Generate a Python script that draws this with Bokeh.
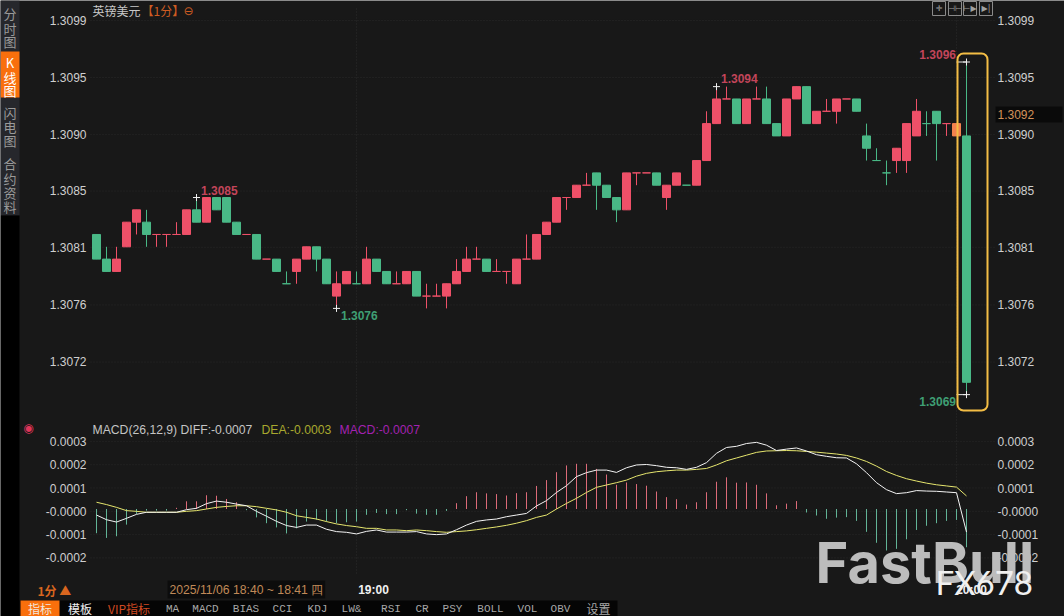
from bokeh.plotting import figure
from bokeh.embed import file_html
from bokeh.resources import INLINE
from bokeh.models import LinearAxis, FixedTicker, Label, BoxAnnotation, Range1d, ColumnDataSource

# ---------- data ----------
# candles: pips above 1.3000
opens  = [82,80,79,81,83,83,82,82,82,82,84,83,85,85,83,82,82,80,80,78,79,80,81,80,77,78,78,78,80,79,78,78,79,77,77,77,78,79,80,80,79,79,78,80,80,82,83,85,85,86,87,86,85,84,87,87,87,85,86,86,86,88,91,93,93,91,93,93,91,90,93,94,91,92,92,93,93,90,88,87,88,88,90,91,92,91,90,90]
closes = [80,79,80,83,84,82,82,82,82,84,83,85,84,83,82,82,80,80,79,78,80,81,80,78,78,79,78,80,79,78,78,79,77,77,77,78,79,80,80,79,79,79,80,80,82,83,85,85,86,86,86,85,84,87,87,87,86,86,87,86,88,91,93,93,91,93,93,91,90,93,94,91,92,92,93,93,92,89,88,87,89,91,92,91,91,91,91,70]
highs  = [82,81,81,83,84,84,82,82,83,84,85,85,85,85,83,82,82,80,80,79,80,81,81,80,79,79,79,81,80,79,79,79,79,78,78,78,80,81,81,80,80,79,80,82,82,83,85,85,86,87,87,86,85,87,87,87,87,86,87,86,88,92,94,94,93,93,94,94,91,93,94,94,92,93,93,93,93,91,89,88,89,91,93,92,92,91,91,96]
lows   = [80,79,79,81,82,81,81,81,82,82,83,83,84,83,82,82,80,80,79,78,78,80,79,78,76,78,78,78,79,78,78,78,77,76,77,76,78,79,80,79,79,78,78,80,80,82,83,84,85,86,84,85,83,84,86,87,86,84,86,86,86,88,91,93,91,91,93,91,90,90,93,91,91,92,91,93,92,88,88,86,87,87,90,90,88,90,90,69]
green_dojis = [19,26,59,78,79,83]
highlight_candle = 86

# MACD, in units of 0.0001
diff = [-.26,-.46,-.56,-.40,-.23,-.14,-.14,-.14,-.14,-.03,.03,.23,.34,.29,.21,.14,-.10,-.31,-.53,-.71,-.79,-.69,-.69,-.87,-.97,-1.0,-1.07,-.96,-.90,-.99,-.99,-.99,-.97,-1.07,-1.10,-1.07,-.89,-.69,-.53,-.47,-.43,-.33,-.26,-.19,.13,.36,.71,1.0,1.39,1.56,1.67,1.67,1.57,1.77,1.89,1.91,1.86,1.79,1.77,1.70,1.79,1.99,2.39,2.64,2.69,2.81,2.86,2.74,2.51,2.57,2.62,2.49,2.33,2.26,2.20,2.19,1.94,1.56,1.13,.83,.66,.70,.79,.77,.76,.73,.70,-.99]
dea  = [.29,.19,.07,-.07,-.10,-.14,-.14,-.14,-.14,-.10,-.07,0,.07,.11,.14,.14,.10,.03,-.04,-.14,-.29,-.36,-.43,-.54,-.64,-.71,-.76,-.83,-.83,-.90,-.90,-.93,-.90,-.93,-.97,-1.0,-.97,-.94,-.89,-.83,-.77,-.70,-.61,-.50,-.36,-.26,0,.24,.46,.71,.93,1.03,1.13,1.24,1.41,1.53,1.60,1.64,1.67,1.67,1.70,1.74,1.89,2.07,2.19,2.31,2.43,2.49,2.50,2.51,2.50,2.47,2.44,2.40,2.36,2.30,2.19,2.04,1.84,1.61,1.44,1.30,1.20,1.11,1.04,.99,.94,.56]
hist = [-1.04,-1.24,-1.17,-.67,-.21,-.07,-.07,-.07,.05,.33,.33,.59,.57,.43,.29,-.05,-.36,-.61,-.79,-1.05,-.83,-.54,-.46,-.54,-.61,-.57,-.54,-.25,-.17,-.22,-.22,-.05,-.20,-.25,-.25,-.08,.25,.55,.72,.67,.64,.58,.68,.72,.99,1.24,1.58,1.87,1.94,1.94,1.72,1.48,1.04,1.14,1.07,1.0,.75,.51,.42,.19,.29,.72,1.17,1.36,1.13,1.14,1.04,.67,.16,.23,.34,-.15,-.28,-.42,-.37,-.35,-.51,-.98,-1.45,-1.78,-1.71,-1.30,-.90,-.72,-.61,-.51,-.47,-1.64]

price_ticks  = [1.309937,1.309474,1.309012,1.308553,1.308096,1.307628,1.307165]
price_labels = ["1.3099","1.3095","1.3090","1.3085","1.3081","1.3076","1.3072"]
macd_ticks   = [.00029,.00019,.00009,-.00001,-.00011,-.00021]
macd_labels  = ["0.0003","0.0002","0.0001","-0.0000","-0.0001","-0.0002"]
time_grid    = [26,86]
time_ticks   = [27.7,87.5]
time_labels  = ["19:00","20:00"]

mark_index = [10,24,62,87,87]
mark_price = [1.3085,1.3076,1.3094,1.3096,1.3069]
mark_text  = ["1.3085","1.3076","1.3094","1.3096","1.3069"]

UP, DOWN = "#ee5068", "#49b886"
BG = "#181818"
GRID = "#2a2a2a"
SANS = "Liberation Sans"
CJK = "Noto Sans CJK SC"
MONO = "Liberation Mono"
W, H = 1064, 616

N = len(opens)
price = lambda v: 1.3 + v * 0.0001
mv = lambda arr: [v * 0.0001 for v in arr]
xs = list(range(N))
colors = []
for i in xs:
    if i == highlight_candle:
        colors.append("#f4824e")
    elif closes[i] < opens[i] or i in green_dojis:
        colors.append(DOWN)
    else:
        colors.append(UP)

candles = ColumnDataSource(dict(
    x=xs,
    top=[price(max(o, c)) for o, c in zip(opens, closes)],
    bottom=[price(min(o, c)) for o, c in zip(opens, closes)],
    high=[price(v) for v in highs],
    low=[price(v) for v in lows],
    color=colors))

# scales: the frame covers the whole canvas, data scales map onto page pixels
i_at = lambda X: (X - 96.0) / 10
y_at = lambda Y: 1.3096 + (61.5 - Y) / 123200
m_at = lambda Y: (508.5 - Y) / 233000
FL, FR = 90, 995

p = figure(width=W, height=H, x_range=Range1d(i_at(0), i_at(W)), y_range=Range1d(y_at(H), y_at(0)),
           x_axis_location=None, y_axis_location=None, toolbar_location=None,
           output_backend="svg", background_fill_color=BG, border_fill_color=BG,
           min_border=0, outline_line_color=None)
p.grid.visible = False
p.extra_y_ranges["macd"] = Range1d(m_at(H), m_at(0))


def value_axis(ticks, labels, side, loc, rng):
    ax = LinearAxis(ticker=FixedTicker(ticks=ticks), fixed_location=loc, y_range_name=rng,
                    major_label_overrides=dict(zip(ticks, labels)),
                    axis_line_color=None, major_tick_line_color=None, minor_tick_line_color=None,
                    major_label_text_color="#cfcfcf", major_label_text_font=SANS,
                    major_label_text_font_size="12px", major_label_standoff=3)
    p.add_layout(ax, side)


def txt(X, Y, s, color="#c8c8c8", size=12, font=SANS, align="left", style="normal", bg=None, pad=0):
    p.add_layout(Label(x=X, y=H - Y, x_units="screen", y_units="screen", text=s, text_color=color,
                       text_font=font, text_font_size=f"{size}px", text_align=align,
                       text_baseline="middle", text_font_style=style, background_fill_color=bg,
                       padding=pad, level="overlay"))


def box(X0, X1, Y0, Y1, fill=None, line=None):
    p.add_layout(BoxAnnotation(left=X0, right=X1, top=H - Y0, bottom=H - Y1,
                               left_units="screen", right_units="screen", top_units="screen",
                               bottom_units="screen", fill_color=fill, fill_alpha=1 if fill else 0,
                               line_color=line, line_width=1, line_alpha=1 if line else 0,
                               level="overlay", editable=False))


# ---------- grids ----------
L_I, R_I = i_at(FL), i_at(FR)
p.segment([L_I] * len(price_ticks), price_ticks, [R_I] * len(price_ticks), price_ticks,
          line_color=GRID, line_dash="1 2")
p.segment([L_I] * len(macd_ticks), macd_ticks, [R_I] * len(macd_ticks), macd_ticks,
          line_color=GRID, line_dash="1 2", y_range_name="macd")
p.segment(time_grid, [y_at(8)] * 2, time_grid, [y_at(575)] * 2, line_color=GRID, line_dash="1 2")

# ---------- axes ----------
value_axis(price_ticks, price_labels, "left", i_at(95), "default")
value_axis(price_ticks, price_labels, "right", i_at(988), "default")
value_axis(macd_ticks, macd_labels, "left", i_at(95), "macd")
value_axis(macd_ticks, macd_labels, "right", i_at(988), "macd")
p.add_layout(LinearAxis(ticker=FixedTicker(ticks=time_ticks), fixed_location=y_at(572),
                        major_label_overrides=dict(zip(time_ticks, time_labels)),
                        axis_line_color=None, major_tick_line_color=None, minor_tick_line_color=None,
                        major_label_text_color="#f0f0f0", major_label_text_font=SANS,
                        major_label_text_font_size="12px", major_label_text_font_style="bold",
                        major_label_standoff=4), "below")

# ---------- candles ----------
p.segment("x", "low", "x", "high", color="color", line_width=1, source=candles)
p.vbar("x", width=0.8, top="top", bottom="bottom", fill_color="color", line_color="color",
       line_width=1, source=candles)

p.segment([86, 86], [mark_price[3], mark_price[4]], [87, 87], [mark_price[3], mark_price[4]],
          color="#e8e8e8", line_width=1)
p.scatter(mark_index, mark_price, marker="cross", size=7, line_color="#f0f0f0", line_width=1)

offs = [(4.5, -7, "left"), (4.5, 7, "left"), (4.5, -8, "left"), (-10.5, -7.5, "right"), (-10.5, 7, "right")]
mark_col = ["#c2455a", "#3f9f74", "#c2455a", "#c2455a", "#3f9f74"]
for i, v, t, o, c in zip(mark_index, mark_price, mark_text, offs, mark_col):
    p.add_layout(Label(x=i, y=v, text=t, x_offset=o[0], y_offset=-o[1], text_align=o[2],
                       text_baseline="middle", text_color=c, text_font=SANS, text_font_style="bold",
                       text_font_size="12px"))

p.add_layout(BoxAnnotation(left=86.1, right=89.1, top=y_at(53), bottom=y_at(410), fill_alpha=0,
                           line_color="#f3bd45", line_alpha=1, line_width=2, border_radius=6))

# ---------- MACD ----------
h_col = ["#dc6a78" if v > 0 else "#62b497" for v in hist]
p.segment(xs, [0] * N, xs, mv(hist), line_color=h_col, line_width=1, y_range_name="macd")
p.line(xs, mv(dea), line_color="#e6e66e", line_width=1, y_range_name="macd")
p.line(xs, mv(diff), line_color="#f4f4f4", line_width=1, y_range_name="macd")

# ---------- sidebar ----------
box(0, 19, 0, 215, fill="#26272c")
box(0, 19, 215, 616, fill="#000000")
box(0, 19, 51, 97, fill="#f96f0c")
for s, Y, col in [("分", 13, "#9a9a9a"), ("时", 28, "#9a9a9a"), ("图", 41, "#9a9a9a"),
                  ("K", 62, "#ffffff"), ("线", 77, "#ffffff"), ("图", 90, "#ffffff"),
                  ("闪", 112, "#9a9a9a"), ("电", 126, "#9a9a9a"), ("图", 140, "#9a9a9a"),
                  ("合", 163, "#9a9a9a"), ("约", 178, "#9a9a9a"), ("资", 192, "#9a9a9a"), ("料", 206, "#9a9a9a")]:
    txt(9.5, Y, s, col, 13, CJK, "center")

# ---------- header ----------
txt(92, 10, "英镑美元", "#c8c8c8", 12, CJK)
txt(141, 10, "【1分】", "#cf5c22", 12, CJK)
txt(188, 10, "⊖", "#cf5c22", 12, "DejaVu Sans", "center")

for X0, s in [(932, "✛"), (948, "⊣⊢"), (963, "⊢▶"), (979, "▶|")]:
    box(X0, X0 + 13, 1, 15, line="#8a8a8a")
    txt(X0 + 6.5, 8, s, "#a0a0a0", 8, "DejaVu Sans", "center")

# current price tag
box(995, 1062, 106, 122, fill="#0a0a0a")
txt(997, 114, "1.3092", "#d4935a", 12)

# ---------- MACD legend ----------
txt(92, 429, "MACD(26,12,9) DIFF:-0.0007", "#c4c4c4", 12.2)
txt(261, 429, "DEA:-0.0003", "#a8a82e", 12.2)
txt(339, 429, "MACD:-0.0007", "#a222b0", 12.2)
txt(28, 427, "◉", "#e0355a", 12, "DejaVu Sans", "center")

# ---------- bottom rows ----------
txt(37, 590, "1分 ▲", "#d9661f", 12, CJK, style="bold")
txt(167, 589, "2025/11/06 18:40 ~ 18:41 四", "#c08a58", 12.2, SANS, bg="#0c0c0c", pad=2)

box(19, 617, 600, 616, fill="#050505")
box(20, 59, 600, 616, fill="#f96f0c")
txt(39.5, 608, "指标", "#f2e8df", 12, CJK, "center")
txt(79.5, 608, "模板", "#f0f0f0", 12, CJK, "center")
txt(128.5, 608, "VIP指标", "#cf4a22", 12, CJK, "center")
for s, X in [("MA", 172), ("MACD", 205), ("BIAS", 245.5), ("CCI", 282), ("KDJ", 317), ("LW&", 351),
             ("RSI", 390.5), ("CR", 421.5), ("PSY", 452), ("BOLL", 490), ("VOL", 527), ("OBV", 560)]:
    txt(X, 608, s, "#a8a8a8", 11, MONO, "center")
txt(598, 608, "设置", "#a8a8a8", 12, CJK, "center")

# ---------- watermark ----------
txt(815, 562, "FastBull", "#bcbcbc", 56, "Inter", style="bold")
txt(935, 581, "FX678", "#f0f0f0", 33, "Lato")

open("out.html", "w").write(file_html(p, INLINE))
